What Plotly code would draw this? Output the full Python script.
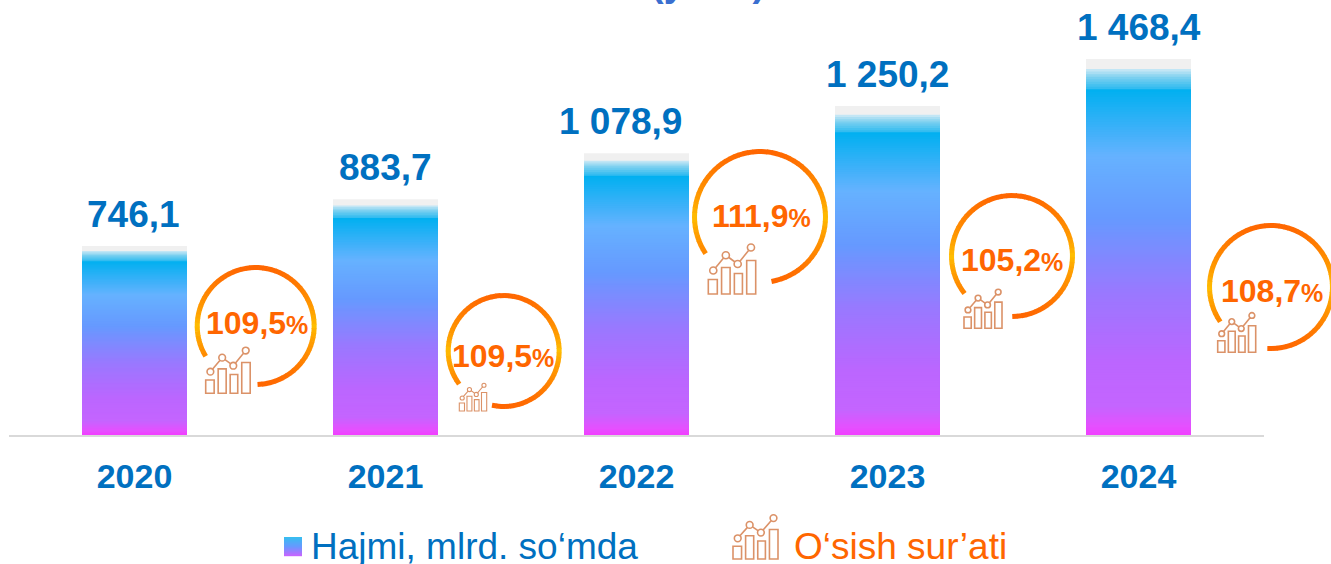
import math
import plotly.graph_objects as go

W, H = 1331, 564

years = ["2020", "2021", "2022", "2023", "2024"]
# Printed labels, as they appear in the picture.
value_labels = ["746,1", "883,7", "1 078,9", "1 250,2", "1 468,4"]
growth_labels = ["109,5", "109,5", "111,9", "105,2", "108,7"]
# Bar heights as drawn in the picture (the source artwork
# is not exactly proportional to its printed labels).
bar_heights = [738, 921, 1101, 1285, 1468.4]
label_nudge = [-1, 0, -16, 0, 0]

BLUE = "#0070C0"
ORANGE = "#FF6600"
ICON = "#DB9268"
FONT = "Liberation Sans"

# gradient stops: fraction from the bar top, colour
grad = [(0, "#F0F0F0"), (0.021, "#F0F0F0"), (0.022, "#D4EBF6"), (0.045, "#7CD0F0"), (0.075, "#30BBF0"),
        (0.076, "#00B0F0"), (0.256, "#66B2FF"), (0.42, "#6699FF"), (0.62, "#9A78FF"), (0.80, "#BB66FF"),
        (0.92, "#C465FF"), (0.975, "#E64FFF"), (1.0, "#F23CFF")]


def rgb(h):
    return tuple(int(h[i:i + 2], 16) for i in (1, 3, 5))


def mix(a, b, t):
    a, b = rgb(a), rgb(b)
    return "#%02X%02X%02X" % tuple(round(a[i] + (b[i] - a[i]) * t) for i in range(3))


def grad_color(f):
    for (f0, c0), (f1, c1) in zip(grad, grad[1:]):
        if f <= f1:
            return mix(c0, c1, (f - f0) / (f1 - f0) if f1 > f0 else 0)
    return grad[-1][1]


idx = list(range(len(years)))
fig = go.Figure()
N = 150
# overlaid bars, tallest first, so that the colour bands have no seams
for i in range(N):
    share = 1 - i / N
    fig.add_trace(go.Bar(
        x=idx, y=[v * share for v in bar_heights],
        marker=dict(color=grad_color(i / N), line=dict(width=0)),
        hoverinfo="skip", showlegend=False))

px_x = lambda x: x / W
px_y = lambda y: 1 - y / H
shapes, annos = [], []

for k, v, lab, nudge in zip(idx, bar_heights, value_labels, label_nudge):
    annos.append(dict(x=k, y=v, xref="x", yref="y", text=f"<b>{lab}</b>", showarrow=False,
                      xanchor="center", yanchor="bottom", yshift=9, xshift=nudge,
                      font=dict(family=FONT, size=37, color=BLUE)))


def line(x0, y0, x1, y1, color, width):
    shapes.append(dict(type="line", xref="paper", yref="paper", x0=px_x(x0), y0=px_y(y0),
                       x1=px_x(x1), y1=px_y(y1), line=dict(color=color, width=width)))


def icon(left, top, w, h):
    sw = 1.6 if w > 30 else 1.1
    X = lambda u: left + u * w
    Y = lambda u: top + u * h
    for a, b, t in [(0, .19, .71), (.28, .46, .47), (.55, .72, .59), (.81, 1, .33)]:
        shapes.append(dict(type="rect", xref="paper", yref="paper", x0=px_x(X(a)), x1=px_x(X(b)),
                           y0=px_y(Y(t)), y1=px_y(Y(1)), line=dict(color=ICON, width=sw),
                           fillcolor="rgba(255,255,255,0)"))
    pts = [(.105, .53), (.37, .225), (.62, .40), (.90, .07)]
    for p, q in zip(pts, pts[1:]):
        line(X(p[0]), Y(p[1]), X(q[0]), Y(q[1]), ICON, sw)
    r = .075 * w
    for p in pts:
        shapes.append(dict(type="circle", xref="paper", yref="paper",
                           x0=px_x(X(p[0]) - r), x1=px_x(X(p[0]) + r),
                           y0=px_y(Y(p[1]) - r), y1=px_y(Y(p[1]) + r),
                           line=dict(color=ICON, width=sw), fillcolor="#FFFFFF"))


# growth badges: centre x, centre y, outer radius, ring ends, label centre, icon box
cx = [255.7, 503.7, 760, 1012, 1271]
cy = [326, 351, 217, 256, 287]
radius = [61, 58, 68, 63, 64]
end_left = [(206.7, 355.7), (458, 385), (708, 252), (964, 294), (1220, 322)]
end_right = [(258, 380), (492.7, 405), (771, 275), (1013, 318), (1268, 349)]
label_xy = [(257, 323), (503, 356), (761, 216), (1012, 260), (1272, 291)]
icon_box = [(205.7, 347.3, 44.5, 46), (459.3, 383.3, 27.4, 27.7), (708.3, 244, 47.4, 50),
            (964, 289.3, 38, 39), (1217.7, 312.7, 38, 39.6)]
SW = 5

for c_x, c_y, R, e0, e1, (lx, ly), box, g in zip(cx, cy, radius, end_left, end_right, label_xy, icon_box, growth_labels):
    a0 = math.atan2(c_y - e0[1], e0[0] - c_x) % (2 * math.pi)
    a1 = math.atan2(c_y - e1[1], e1[0] - c_x)
    n = 70
    r = R - SW / 2
    for k in range(n):
        t0 = a0 + (a1 - a0) * k / n
        t1 = a0 + (a1 - a0) * (k + 1.15) / n
        m = (t0 + t1) / 2
        col = mix("#FFC000", ORANGE, abs(math.sin(m)) ** 0.75)
        line(c_x + r * math.cos(t0), c_y - r * math.sin(t0), c_x + r * math.cos(t1), c_y - r * math.sin(t1), col, SW)
    icon(*box)
    annos.append(dict(x=px_x(lx), y=px_y(ly), xref="paper", yref="paper", showarrow=False,
                      xanchor="center", yanchor="middle",
                      text=f'<b>{g}<span style="font-size:25px">%</span></b>',
                      font=dict(family=FONT, size=32, color=ORANGE)))

# legend
for i in range(19):
    y = 537 + i
    shapes.append(dict(type="rect", xref="paper", yref="paper", x0=px_x(284), x1=px_x(302),
                       y0=px_y(y), y1=px_y(y + 1.2), line=dict(width=0),
                       fillcolor=mix("#6699FF", "#C465FF", (i - 9) / 9) if i > 8 else mix("#38BDF0", "#6699FF", i / 9)))
annos.append(dict(x=px_x(309), y=px_y(546), xref="paper", yref="paper", xanchor="left", yanchor="middle",
                  showarrow=False, text="Hajmi, mlrd. so‘mda", font=dict(family=FONT, size=37, color=BLUE)))
icon(733, 515, 45, 44)
annos.append(dict(x=px_x(792), y=px_y(546), xref="paper", yref="paper", xanchor="left", yanchor="middle",
                  showarrow=False, text="O‘sish sur’ati", font=dict(family=FONT, size=37, color=ORANGE)))
# heading cut off by the top edge of the picture
annos.append(dict(x=px_x(708), y=px_y(-17), xref="paper", yref="paper", showarrow=False,
                  xanchor="center", yanchor="middle",
                  text="<b>(yillar)</b>", font=dict(family=FONT, size=38, color="#3A6FD0")))

fig.update_layout(
    width=W, height=H, margin=dict(l=0, r=0, t=0, b=0, pad=0, autoexpand=False),
    paper_bgcolor="#FFFFFF", plot_bgcolor="#FFFFFF",
    barmode="overlay", bargap=0.582, showlegend=False,
    xaxis=dict(domain=[9 / W, 1264 / W], type="linear", range=[-0.5, 4.5], showgrid=False, zeroline=False,
               tickmode="array", tickvals=idx, ticktext=years,
               showline=True, linecolor="#D9D9D9", linewidth=2, ticks="outside", ticklen=10,
               tickcolor="rgba(0,0,0,0)",
               tickfont=dict(family=FONT, size=34, color=BLUE, weight=700)),
    yaxis=dict(domain=[1 - 435 / H, 1], range=[0, 435 / 0.256], visible=False),
    shapes=shapes, annotations=annos)

fig.write_html("out.html", config=dict(displayModeBar=False),
               post_script="document.body.style.margin='0';document.body.style.overflow='hidden';")
